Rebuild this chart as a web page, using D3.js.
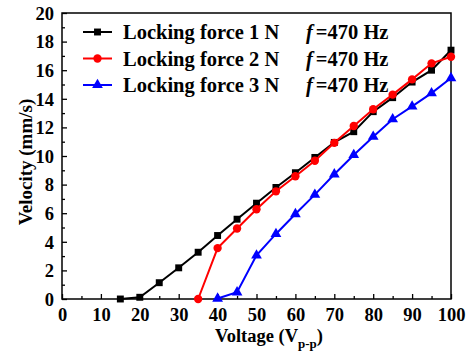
<!DOCTYPE html>
<html>
<head>
<meta charset="utf-8">
<script src="https://cdn.jsdelivr.net/npm/d3@7"></script>
<style>
  body { margin: 0; background: #fff; }
  text { font-family: "Liberation Serif", "Times New Roman", serif; font-weight: bold; }
</style>
</head>
<body>
<script>
// data
const volt1 = [15, 20, 25, 30, 35, 40, 45, 50, 55, 60, 65, 70, 75, 80, 85, 90, 95, 100];
const vel1 = [0, 0.12, 1.14, 2.18, 3.27, 4.44, 5.58, 6.7, 7.8, 8.83, 9.9, 10.95, 11.7, 13.1, 14.08, 15.17, 16.0, 17.4];
const volt2 = [35, 40, 45, 50, 55, 60, 65, 70, 75, 80, 85, 90, 95, 100];
const vel2 = [0, 3.56, 4.93, 6.28, 7.53, 8.58, 9.67, 10.92, 12.1, 13.27, 14.29, 15.36, 16.48, 16.94];
const volt3 = [40, 45, 50, 55, 60, 65, 70, 75, 80, 85, 90, 95, 100];
const vel3 = [0.03, 0.47, 3.05, 4.55, 5.94, 7.3, 8.72, 10.07, 11.35, 12.57, 13.47, 14.4, 15.45];
const names = ["Locking force 1 N", "Locking force 2 N", "Locking force 3 N"];
const xTicks = [0, 10, 20, 30, 40, 50, 60, 70, 80, 90, 100];
const yTicks = [0, 2, 4, 6, 8, 10, 12, 14, 16, 18, 20];

let margin = { top: 13, right: 22, bottom: 56, left: 62 },
  width = 473 - margin.left - margin.right,
  height = 355 - margin.top - margin.bottom;

let svg = d3.select("body").append("svg")
  .attr("width", 473)
  .attr("height", 355);
let g = svg.append("g")
  .attr("transform", "translate(" + margin.left + "," + margin.top + ")");

let x = d3.scaleLinear().domain([0, 100]).range([0, width]);
let y = d3.scaleLinear().domain([0, 20]).range([height, 0]);

// minor ticks (inside)
let x_minor = g.append("g")
  .attr("transform", "translate(0," + height + ")")
  .call(d3.axisBottom(x).tickValues(d3.range(5, 100, 10)).tickSize(-3).tickFormat(""));
let y_minor = g.append("g")
  .call(d3.axisLeft(y).tickValues(d3.range(1, 20, 2)).tickSize(-3).tickFormat(""));

// major ticks + labels
let x_node = g.append("g")
  .attr("transform", "translate(0," + height + ")")
  .call(d3.axisBottom(x).tickValues(xTicks).tickSize(-5).tickPadding(0));
let y_node = g.append("g")
  .call(d3.axisLeft(y).tickValues(yTicks).tickSize(-5).tickPadding(8));

[x_minor, y_minor, x_node, y_node].forEach(function (a) {
  a.selectAll("line").attr("stroke", "#000").attr("stroke-width", 1.3);
  a.select(".domain").remove();
});
x_node.selectAll("text").style("font-size", "18.5px").attr("fill", "#000")
  .attr("y", 22).attr("dy", null);
y_node.selectAll("text").style("font-size", "18.5px").attr("fill", "#000").attr("dy", "0.34em");

// frame
g.append("rect")
  .attr("width", width).attr("height", height)
  .attr("fill", "none").attr("stroke", "#000").attr("stroke-width", 1.5);

// axis titles
let xt = svg.append("text")
  .attr("x", 269)
  .attr("y", 342)
  .attr("text-anchor", "middle")
  .style("font-size", "18.5px");
xt.append("tspan").text("Voltage (V");
xt.append("tspan").attr("dy", 6).style("font-size", "13px").text("p-p");
xt.append("tspan").attr("dy", -6).text(")");

svg.append("text")
  .attr("transform", "translate(32," + (margin.top + height / 2 + 6) + ") rotate(-90)")
  .attr("text-anchor", "middle")
  .style("font-size", "19px")
  .text("Velocity (mm/s)");

let colors = ["#000000", "#ff0000", "#0000ff"];
let series = [
  { xs: volt1, ys: vel1, shape: d3.symbolSquare, size: 48 },
  { xs: volt2, ys: vel2, shape: d3.symbolCircle, size: 55 },
  { xs: volt3, ys: vel3, shape: d3.symbolTriangle, size: 50 }
];

let l = d3.line()
  .x(function (d) { return x(d[0]) })
  .y(function (d) { return y(d[1]) });

series.forEach(function (s, i) {
  let pts = s.xs.map(function (v, n) { return [v, s.ys[n]] });
  g.append("path")
    .datum(pts)
    .attr("d", l)
    .attr("fill", "none")
    .attr("stroke", colors[i])
    .attr("stroke-width", 2);
  g.selectAll(".m" + i)
    .data(pts)
    .enter().append("path")
    .attr("class", "m" + i)
    .attr("transform", function (d) { return "translate(" + x(d[0]) + "," + y(d[1]) + ")" })
    .attr("d", d3.symbol().type(s.shape).size(s.size))
    .attr("fill", colors[i]);
});

// legend
let leg = svg.append("g");
series.forEach(function (s, i) {
  let yy = 32 + i * 26.5;
  leg.append("line")
    .attr("x1", 83).attr("x2", 112).attr("y1", yy).attr("y2", yy)
    .attr("stroke", colors[i]).attr("stroke-width", 2);
  leg.append("path")
    .attr("transform", "translate(97.5," + yy + ")")
    .attr("d", d3.symbol().type(s.shape).size(s.size))
    .attr("fill", colors[i]);
  leg.append("text")
    .attr("x", 123).attr("y", yy + 7)
    .style("font-size", "20.5px")
    .text(names[i]);
  let ft = leg.append("text")
    .attr("x", 306).attr("y", yy + 7)
    .style("font-size", "20.5px");
  ft.append("tspan").style("font-style", "italic").text("f");
  ft.append("tspan").attr("dx", 3).text("=470 Hz");
});
</script>
</body>
</html>
